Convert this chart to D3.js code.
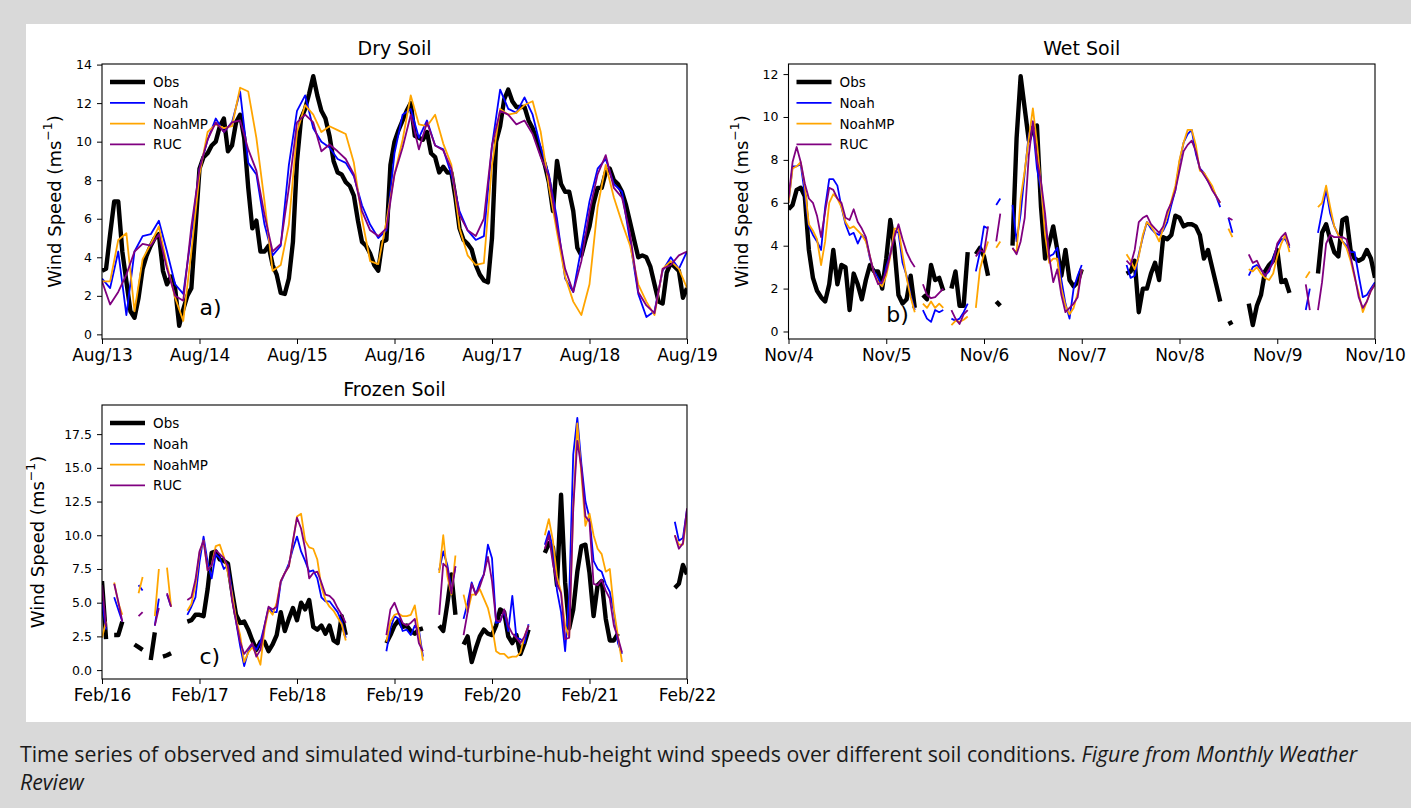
<!DOCTYPE html>
<html>
<head>
<meta charset="utf-8">
<script src="https://cdn.jsdelivr.net/npm/d3@7"></script>
<style>
  html, body { margin: 0; padding: 0; background: #d9d9d9; }
  svg { display: block; }
</style>
</head>
<body>
<svg id="fig" width="1411" height="808"></svg>
<script>
// ---------------------------------------------------------------------------
// Hub-height wind speed (m/s): observations and three land-surface models.
// Hours are counted from the first labelled day of each panel.
// ---------------------------------------------------------------------------

const seriesNames = ["Obs", "Noah", "NoahMP", "RUC"];

// Day labels on the time axes (one tick every 24 h)
const dryDays    = ["Aug/13", "Aug/14", "Aug/15", "Aug/16", "Aug/17", "Aug/18", "Aug/19"];
const wetDays    = ["Nov/4", "Nov/5", "Nov/6", "Nov/7", "Nov/8", "Nov/9", "Nov/10"];
const frozenDays = ["Feb/16", "Feb/17", "Feb/18", "Feb/19", "Feb/20", "Feb/21", "Feb/22"];

// Value-axis ticks
const dryYTicks    = [0, 2, 4, 6, 8, 10, 12, 14];
const wetYTicks    = [0, 2, 4, 6, 8, 10, 12];
const frozenYTicks = [0, 2.5, 5, 7.5, 10, 12.5, 15, 17.5];

// ---- Dry soil ------------------------------------------------------------
// observations, hourly
const dryObs = [
  3.3, 3.4, 5.2, 6.9, 6.9, 4.3, 2.75, 1.2, 0.86, 1.9,      // 0-9
  3.4, 4.1, 4.6, 5.0, 5.2, 3.3, 2.6, 3.0, 2.4, 0.45,       // 10-19
  1.3, 2.0, 2.4, 5.5, 8.6, 9.2, 9.4, 9.8, 10.0, 10.8,      // 20-29
  11.2, 9.5, 9.8, 11.0, 11.4, 10.2, 7.6, 5.5, 5.9, 4.3,    // 30-39
  4.3, 4.6, 3.6, 3.1, 2.15, 2.1, 2.9, 4.8, 9.0, 11.2,      // 40-49
  11.7, 12.5, 13.4, 12.4, 11.6, 11.2, 10.3, 9.0, 8.4, 8.3, // 50-59
  7.9, 7.7, 7.2, 5.9, 4.8, 4.6, 4.2, 3.6, 3.3, 4.8,        // 60-69
  4.9, 8.8, 10.0, 10.6, 11.1, 11.6, 12.0, 10.3, 10.2, 10.1,// 70-79
  10.5, 9.4, 9.2, 8.4, 8.7, 8.4, 8.4, 7.1, 5.5, 4.9,       // 80-89
  4.7, 4.4, 3.6, 3.1, 2.8, 2.7, 5.0, 10.0, 10.8, 12.2,     // 90-99
  12.7, 12.1, 11.8, 11.8, 11.8, 11.1, 10.7, 10.1, 9.5, 8.8,// 100-109
  7.9, 6.4, 9.0, 7.8, 7.4, 7.4, 6.4, 4.5, 4.1, 4.9,        // 110-119
  5.6, 6.8, 7.6, 7.6, 8.4, 8.6, 8.0, 7.8, 7.4, 6.7,        // 120-129
  5.8, 4.9, 4.0, 4.1, 4.0, 3.5, 2.6, 1.7, 1.6, 3.2,        // 130-139
  3.7, 3.5, 3.3, 1.9, 2.4                                  // 140-144
];
// model output, every 2 h
const dryNoah = [
  2.9, 2.4, 4.3, 1.0, 4.3, 5.1, 5.2, 5.9, 4.3, 2.6,
  2.1, 5.2, 8.6, 10.1, 11.2, 10.5, 11.0, 12.6, 8.9, 8.3,
  5.7, 4.1, 4.6, 8.8, 11.6, 12.4, 10.7, 10.0, 9.7, 9.1,
  8.9, 8.2, 6.7, 5.7, 5.0, 5.4, 9.4, 11.4, 11.7, 10.2,
  11.1, 9.8, 9.6, 8.3, 6.4, 5.4, 4.9, 5.1, 9.8, 12.7,
  11.7, 11.5, 12.3, 11.4, 9.7, 8.3, 6.0, 2.9, 2.2, 4.5,
  6.9, 8.6, 9.1, 7.8, 7.4, 4.8, 2.1, 0.9, 1.2, 3.3,
  4.0, 3.4, 4.3
];
const dryNoahMP = [
  2.75, 2.75, 4.9, 5.25, 1.2, 3.9, 4.7, 5.6, 3.6, 1.9,
  0.7, 4.3, 8.3, 10.5, 10.9, 10.7, 10.8, 12.8, 12.6, 10.2,
  6.9, 3.3, 3.6, 5.7, 10.5, 11.9, 11.4, 10.5, 10.8, 10.6,
  10.4, 8.9, 6.0, 3.8, 3.65, 5.85, 8.3, 10.1, 12.4, 10.9,
  10.8, 11.4, 9.9, 8.8, 5.5, 4.1, 3.6, 3.7, 8.8, 11.7,
  11.4, 11.5, 11.9, 12.1, 10.5, 7.7, 5.3, 3.0, 1.7, 1.0,
  2.6, 6.6, 8.8, 7.1, 5.8, 4.6, 2.6, 1.7, 1.0, 3.4,
  3.8, 3.4, 2.4
];
const dryRUC = [
  2.75, 1.55, 2.2, 3.1, 4.3, 4.7, 4.6, 5.2, 3.4, 2.0,
  1.75, 5.6, 8.6, 10.1, 11.0, 10.5, 11.0, 11.1, 9.6, 8.5,
  6.2, 4.3, 4.7, 7.6, 11.0, 11.4, 11.0, 9.5, 9.85, 9.5,
  9.1, 8.3, 6.4, 5.4, 5.1, 5.5, 8.3, 9.7, 11.4, 9.6,
  11.0, 9.8, 9.55, 8.6, 6.2, 5.4, 5.1, 6.0, 9.8, 11.6,
  11.4, 10.9, 11.1, 10.4, 9.2, 8.2, 5.6, 3.4, 2.2, 3.8,
  6.4, 8.3, 9.3, 7.6, 7.1, 5.2, 2.2, 1.5, 1.1, 3.4,
  3.6, 4.1, 4.3
];

// ---- Wet soil (hourly, null = missing) --------------------------------------
const wetObs = [
  5.7, 5.9, 6.6, 6.7, 6.3, 3.8, 2.5, 1.9, 1.6, 1.4,
  2.2, 3.8, 2.2, 3.1, 3.0, 1.0, 2.7, 2.2, 1.5, 2.4,
  3.1, 2.8, 2.8, 2.0, 3.4, 5.2, 3.9, 1.7, 1.3, 1.5,
  2.6, 1.1, null, 1.7, 1.5, 3.1, 2.4, 2.5, 1.9, null,
  2.0, 2.8, 1.2, 1.2, 3.7, null, 3.6, 3.9, 3.5, 2.6,
  null, 1.4, 1.2, null, null, 4.0, 9.0, 11.9, 10.4, 8.9,
  9.5, 9.6, 5.8, 3.4, 4.1, 4.9, 3.8, 2.6, 3.8, 2.4,
  2.1, 2.3, 2.9, null, null, null, null, null, null, null,
  null, null, null, 2.7, 2.8, 3.3, 0.9, 2.0, 2.0, 2.7,
  3.2, 2.4, 4.4, 4.3, 4.5, 5.4, 5.3, 4.9, 5.0, 5.0,
  4.9, 4.5, 3.4, 3.8, 3.0, 2.2, 1.4, null, 0.35, 0.45,
  null, null, null, 1.3, 0.3, 1.2, 1.7, 2.8, 3.1, 3.3,
  3.8, 2.3, 2.4, 1.8, null, null, null, null, null, null,
  2.7, 4.6, 5.0, 4.3, 3.7, 3.5, 5.2, 5.3, 3.8, 3.4,
  3.3, 3.4, 3.8, 3.4, 2.5
];
const wetNoah = [
  6.0, 7.7, 7.7, 7.8, 6.4, 4.9, 4.5, 4.2, 3.8, 5.8,
  7.1, 7.1, 6.8, 5.8, 5.0, 4.5, 4.6, 4.1, 4.5, 4.3,
  3.4, 2.8, 2.5, 2.1, 3.0, 3.6, 4.7, 4.6, 3.2, 2.6,
  1.7, 1.0, null, 1.0, 0.6, 0.45, 1.0, 0.9, 1.0, null,
  0.6, 0.5, 0.6, 0.9, 1.3, null, 2.8, 3.7, 4.9, 4.8,
  null, 5.9, 6.2, null, null, 5.9, 4.2, 5.5, 7.4, 9.2,
  9.6, 7.6, 6.6, 4.9, 3.5, 3.6, 3.9, 2.4, 1.3, 0.6,
  2.0, 2.6, 3.1, null, null, null, null, null, null, null,
  null, null, null, 3.1, 2.5, 2.6, 3.6, 4.4, 5.1, 4.8,
  4.6, 4.5, 4.7, 5.1, 5.9, 6.6, 7.9, 8.8, 9.2, 9.4,
  8.3, 7.6, 7.4, 7.0, 6.7, 6.3, 5.8, null, 5.3, 4.6,
  null, null, null, 2.6, 3.0, 3.1, 2.9, 2.6, 2.8, 3.4,
  4.0, 4.3, 4.3, 3.9, null, null, null, 1.0, 2.0, null,
  4.6, 5.6, 6.6, 5.5, 4.9, 4.5, 4.2, 4.0, 3.7, 3.7,
  2.6, 1.6, 1.7, 2.0, 2.3
];
const wetNoahMP = [
  6.0, 7.6, 7.7, 7.9, 6.8, 5.0, 4.7, 4.3, 3.1, 4.2,
  6.0, 6.4, 6.2, 5.8, 5.1, 4.8, 4.9, 4.7, 4.5, 4.2,
  3.5, 2.7, 2.3, 2.1, 2.6, 3.5, 4.8, 4.8, 3.6, 2.5,
  1.6, 0.9, null, 1.3, 1.1, 1.4, 1.1, 1.3, 1.1, null,
  0.3, 0.5, 0.45, 0.55, 0.7, null, 1.1, 2.9, 3.6, 4.2,
  null, 3.9, 4.2, null, null, 3.85, 3.7, 6.2, 7.5, 9.0,
  10.4, 8.8, 6.8, 4.5, 3.2, 3.4, 3.4, 2.0, 1.2, 0.8,
  1.1, 1.8, 2.9, null, null, null, null, null, null, null,
  null, null, null, 3.6, 3.3, 2.9, 3.5, 4.5, 5.1, 4.9,
  4.6, 4.2, 4.8, 5.4, 6.1, 6.8, 8.0, 8.8, 9.4, 9.4,
  8.7, 7.5, 7.4, 7.1, 6.8, 6.3, 6.0, null, 4.8, 4.4,
  null, null, null, 2.9, 2.8, 3.0, 2.7, 2.5, 2.4, 2.7,
  3.5, 4.1, 4.5, 3.7, null, null, null, 2.5, 2.8, null,
  5.8, 6.0, 6.8, 5.8, 4.9, 4.5, 4.2, 3.9, 3.3, 2.5,
  1.8, 0.9, 1.4, 1.9, 2.2
];
const wetRUC = [
  6.2, 7.9, 8.6, 7.9, 6.9, 6.2, 6.0, 5.4, 4.4, 5.6,
  6.7, 6.6, 6.2, 6.0, 5.3, 5.2, 5.7, 5.1, 4.8, 4.4,
  3.5, 2.7, 2.2, 2.3, 2.8, 3.6, 4.4, 5.0, 4.3, 3.7,
  3.3, 3.0, null, 2.2, 1.7, 1.55, 1.6, 1.8, 2.0, null,
  1.0, 0.6, 0.35, 0.8, 1.0, null, 3.5, 3.8, 3.7, 4.9,
  null, 4.2, 5.5, null, null, 3.9, 3.6, 4.2, 5.3, 8.2,
  9.8, 8.0, 7.0, 5.5, 3.5, 2.3, 2.9, 1.7, 0.9, 1.1,
  1.3, 1.6, 2.9, null, null, null, null, null, null, null,
  null, null, null, 3.3, 3.1, 3.8, 5.1, 5.3, 5.4, 5.0,
  4.8, 4.6, 4.9, 5.6, 6.0, 6.6, 7.5, 8.4, 8.7, 8.9,
  8.4, 7.6, 7.3, 7.0, 6.6, 6.3, 6.0, null, 5.3, 5.2,
  null, null, null, 3.6, 3.2, 3.3, 2.9, 2.6, 2.9, 3.2,
  4.1, 4.4, 4.6, 4.0, null, null, null, 2.2, 1.0, null,
  1.0, 2.3, 4.1, 4.5, 4.4, 4.4, 4.4, 4.3, 3.5, 2.6,
  1.6, 1.1, 1.4, 1.9, 2.2
];

// ---- Frozen soil (hourly, null = missing) -----------------------------------
const frozenObs = [
  6.6, 2.3, null, 2.6, 2.6, 3.6, null, null, 1.9, 1.7,
  1.5, null, 0.75, 2.8, null, 1.0, 1.1, 1.25, null, null,
  null, 3.6, 3.7, 4.1, 4.1, 4.0, 6.0, 8.7, 8.8, 8.2,
  8.1, 7.9, 5.9, 4.1, 3.5, 3.6, 3.0, 2.2, 1.5, 2.1,
  2.1, 1.4, 1.9, 2.6, 4.3, 2.9, 3.8, 4.6, 3.7, 5.0,
  4.5, 5.2, 3.2, 3.0, 3.3, 2.7, 3.3, 2.2, 2.0, 4.0,
  2.6, null, null, null, null, null, null, null, null, null,
  2.0, 2.6, 3.3, 3.7, 3.2, 3.3, 2.9, 2.7, 3.0, 3.1,
  null, null, null, 3.3, 2.9, 4.9, 7.1, 4.1, null, 1.9,
  2.5, 0.6, 1.6, 2.5, 3.0, 2.7, 2.6, 3.3, 4.5, 4.3,
  2.5, 2.0, 2.6, 1.2, 2.0, 3.0, null, null, null, 8.7,
  9.4, 9.1, 6.3, 13.0, 6.5, 3.1, 4.5, 7.3, 9.2, 9.3,
  7.2, 4.0, 6.3, 6.6, 3.8, 2.2, 2.2, 2.7, null, null,
  null, null, null, null, null, null, null, null, null, null,
  null, 6.1, 6.4, 7.8, 7.1
];
const frozenNoah = [
  5.1, 3.0, null, 5.4, 4.5, 3.6, null, null, null, 6.3,
  5.9, null, null, 3.3, 5.3, null, 5.6, 4.7, null, null,
  null, 4.1, 4.7, 5.4, 8.0, 9.9, 8.0, 6.8, 8.6, 8.3,
  7.5, 7.8, 5.8, 3.6, 1.8, 0.3, 1.4, 1.9, 1.5, 2.1,
  3.3, 4.6, 4.3, 4.3, 6.5, 7.2, 7.9, 9.0, 9.9, 8.8,
  8.1, 7.3, 7.4, 6.8, 5.4, 5.1, 5.1, 4.7, 4.3, 3.6,
  2.4, null, null, null, null, null, null, null, null, null,
  1.4, 3.1, 4.0, 3.8, 2.9, 3.0, 2.6, 3.3, 3.0, 1.0,
  null, null, null, 7.4, 8.8, 7.8, 6.0, 7.7, null, 3.8,
  5.0, 6.5, 5.6, 6.5, 7.1, 9.3, 8.3, 3.5, 3.6, 4.4,
  2.9, 5.5, 2.4, 2.3, 2.0, 3.4, null, null, null, 9.3,
  10.3, 9.0, 5.9, 4.3, 1.4, 5.5, 16.0, 18.7, 15.3, 12.5,
  11.3, 8.1, 7.5, 7.3, 6.4, 5.8, 4.3, 2.0, 1.2, null,
  null, null, null, null, null, null, null, null, null, null,
  null, 11.0, 9.6, 9.8, 11.9
];
const frozenNoahMP = [
  2.4, 3.6, null, 6.5, 5.0, 4.1, null, null, null, 5.7,
  6.9, null, null, 4.0, 7.5, null, 7.6, 4.7, null, null,
  null, 4.4, 4.9, 6.3, 8.7, 9.6, 7.4, 7.8, 9.2, 9.3,
  8.4, 7.2, 5.7, 3.8, 2.6, 0.6, 1.3, 1.7, 1.2, 0.4,
  3.0, 4.5, 4.1, 5.0, 6.6, 7.2, 7.7, 9.5, 11.4, 11.6,
  9.6, 9.1, 9.0, 8.2, 6.2, 5.2, 4.7, 4.4, 3.9, 3.4,
  2.2, null, null, null, null, null, null, null, null, null,
  2.1, 3.6, 4.1, 4.2, 4.0, 4.0, 4.1, 4.8, 2.8, 0.7,
  null, null, null, 7.2, 10.0, 7.0, 5.6, 8.5, null, 5.6,
  4.3, 5.6, 5.6, 6.0, 5.3, 4.6, 3.3, 1.4, 1.2, 1.2,
  0.9, 1.0, 1.0, 1.3, 2.5, 3.3, null, null, null, 10.0,
  11.2, 9.6, 6.9, 5.8, 3.3, 2.4, 12.0, 18.3, 14.5, 10.7,
  11.6, 10.0, 9.0, 8.6, 7.3, 7.5, 4.5, 2.5, 0.6, null,
  null, null, null, null, null, null, null, null, null, null,
  null, 10.0, 9.3, 9.3, 11.5
];
const frozenRUC = [
  6.3, 3.2, null, 6.4, 5.1, 3.6, null, null, null, 4.0,
  4.3, null, null, 3.3, 4.6, null, 5.7, 4.7, null, null,
  null, 5.2, 5.4, 6.7, 8.8, 9.6, 7.4, 7.8, 8.9, 8.6,
  8.3, 7.7, 5.2, 3.6, 2.1, 1.2, 1.6, 2.0, 1.0, 1.5,
  3.3, 4.7, 4.5, 4.7, 6.6, 7.2, 7.7, 9.6, 11.3, 10.5,
  9.0, 6.8, 7.2, 7.3, 6.5, 5.6, 5.5, 5.2, 4.6, 4.1,
  3.5, null, null, null, null, null, null, null, null, null,
  2.6, 4.5, 5.0, 4.2, 3.5, 3.3, 3.5, 3.8, 2.0, 1.4,
  null, null, null, 4.1, 7.9, 7.6, 5.7, 7.7, null, 2.6,
  4.3, 6.4, 5.6, 6.2, 7.1, 8.4, 6.6, 3.7, 3.6, 4.5,
  3.3, 2.7, 2.4, 2.0, 2.5, 3.3, null, null, null, 9.0,
  10.0, 7.9, 6.4, 5.7, 2.3, 2.4, 12.0, 17.0, 15.0, 11.4,
  11.0, 6.4, 6.3, 6.7, 5.9, 5.3, 3.3, 2.4, 1.3, null,
  null, null, null, null, null, null, null, null, null, null,
  null, 10.0, 9.0, 9.4, 12.0
];

// ---------------------------------------------------------------------------
// Styling and layout
// ---------------------------------------------------------------------------
const FONT = "'DejaVu Sans', sans-serif";
const lineStyle = {
  Obs:    { color: "#000000", width: 4.4 },
  Noah:   { color: "#0000ff", width: 1.8 },
  NoahMP: { color: "#ffa500", width: 1.8 },
  RUC:    { color: "#800080", width: 1.8 }
};

const panels = [
  {
    key: "dry", title: "Dry Soil", days: dryDays,
    box: { left: 102, right: 687, top: 64, bottom: 339 },
    yDomain: [-0.24, 14.03], yTicks: dryYTicks, yFormat: d3.format("d"),
    series: { Obs: [dryObs, 1], Noah: [dryNoah, 2], NoahMP: [dryNoahMP, 2], RUC: [dryRUC, 2] },
    tag: "a)", tagAt: [24, 1.0], ylabelGap: 48
  },
  {
    key: "wet", title: "Wet Soil", days: wetDays,
    box: { left: 788.5, right: 1375, top: 64, bottom: 339 },
    yDomain: [-0.35, 12.47], yTicks: wetYTicks, yFormat: d3.format("d"),
    series: { Obs: [wetObs, 1], Noah: [wetNoah, 1], NoahMP: [wetNoahMP, 1], RUC: [wetRUC, 1] },
    tag: "b)", tagAt: [24, 0.45], ylabelGap: 48
  },
  {
    key: "frozen", title: "Frozen Soil", days: frozenDays,
    box: { left: 102, right: 687, top: 405, bottom: 679 },
    yDomain: [-0.66, 19.66], yTicks: frozenYTicks, yFormat: d3.format(".1f"),
    series: { Obs: [frozenObs, 1], Noah: [frozenNoah, 1], NoahMP: [frozenNoahMP, 1], RUC: [frozenRUC, 1] },
    tag: "c)", tagAt: [24, 0.45], ylabelGap: 65
  }
];

const svg = d3.select("#fig");

// page background and white figure card
svg.append("rect").attr("x", 0).attr("y", 0).attr("width", 1411).attr("height", 808).attr("fill", "#d9d9d9");
svg.append("rect").attr("x", 26).attr("y", 24).attr("width", 1385).attr("height", 698).attr("fill", "#ffffff");

panels.forEach(p => {
  const b = p.box;
  const x = d3.scaleLinear().domain([0, (p.days.length - 1) * 24]).range([b.left, b.right]);
  const y = d3.scaleLinear().domain(p.yDomain).range([b.bottom, b.top]);
  const g = svg.append("g").attr("class", "panel-" + p.key);

  g.append("clipPath").attr("id", "clip-" + p.key)
    .append("rect").attr("x", b.left).attr("y", b.top)
    .attr("width", b.right - b.left).attr("height", b.bottom - b.top);

  // time series
  const plot = g.append("g").attr("clip-path", `url(#clip-${p.key})`);
  seriesNames.forEach(name => {
    const [vals, step] = p.series[name];
    const pts = vals.map((v, i) => ({ h: i * step, v: v }));
    const line = d3.line()
      .defined(d => d.v !== null)
      .x(d => x(d.h))
      .y(d => y(d.v));
    plot.append("path")
      .datum(pts)
      .attr("d", line)
      .attr("fill", "none")
      .attr("stroke", lineStyle[name].color)
      .attr("stroke-width", lineStyle[name].width)
      .attr("stroke-linejoin", "round")
      .attr("stroke-linecap", "butt");
  });

  // axes
  const xAxis = d3.axisBottom(x)
    .tickValues(p.days.map((_, i) => i * 24))
    .tickFormat((d, i) => p.days[i])
    .tickSize(5).tickPadding(5);
  const gx = g.append("g").attr("transform", `translate(0,${b.bottom})`).call(xAxis);
  gx.select(".domain").remove();
  gx.selectAll("text").attr("font-family", FONT).attr("font-size", 17).attr("fill", "#000");
  gx.selectAll("line").attr("stroke", "#000").attr("stroke-width", 1);

  const yAxis = d3.axisLeft(y)
    .tickValues(p.yTicks)
    .tickFormat(p.yFormat)
    .tickSize(5).tickPadding(5);
  const gy = g.append("g").attr("transform", `translate(${b.left},0)`).call(yAxis);
  gy.select(".domain").remove();
  gy.selectAll("text").attr("font-family", FONT).attr("font-size", 12.5).attr("fill", "#000");
  gy.selectAll("line").attr("stroke", "#000").attr("stroke-width", 1);

  // frame
  g.append("rect")
    .attr("x", b.left).attr("y", b.top)
    .attr("width", b.right - b.left).attr("height", b.bottom - b.top)
    .attr("fill", "none").attr("stroke", "#000").attr("stroke-width", 1.1);

  // title
  g.append("text")
    .attr("x", (b.left + b.right) / 2).attr("y", b.top - 9)
    .attr("text-anchor", "middle")
    .attr("font-family", FONT).attr("font-size", 19).attr("fill", "#000")
    .text(p.title);

  // value-axis label with superscript unit
  const yl = g.append("text")
    .attr("transform", `translate(${b.left - p.ylabelGap},${(b.top + b.bottom) / 2}) rotate(-90)`)
    .attr("text-anchor", "middle")
    .attr("dominant-baseline", "central")
    .attr("font-family", FONT).attr("font-size", 18).attr("fill", "#000");
  yl.append("tspan").text("Wind Speed (ms");
  yl.append("tspan").attr("dy", -7).attr("font-size", 12.5).text("\u22121");
  yl.append("tspan").attr("dy", 7).text(")");

  // panel tag
  g.append("text")
    .attr("x", x(p.tagAt[0])).attr("y", y(p.tagAt[1]))
    .attr("font-family", FONT).attr("font-size", 22).attr("fill", "#000")
    .text(p.tag);

  // legend
  const lg = g.append("g");
  seriesNames.forEach((name, i) => {
    const ly = b.top + 18 + i * 20.8;
    lg.append("line")
      .attr("x1", b.left + 8).attr("x2", b.left + 43)
      .attr("y1", ly).attr("y2", ly)
      .attr("stroke", lineStyle[name].color)
      .attr("stroke-width", lineStyle[name].width);
    lg.append("text")
      .attr("x", b.left + 51).attr("y", ly)
      .attr("dominant-baseline", "central")
      .attr("font-family", FONT).attr("font-size", 13.5).attr("fill", "#000")
      .text(name);
  });
});

// caption under the figure
const cap = svg.append("text")
  .attr("font-family", "'Open Sans', sans-serif")
  .attr("font-size", 21.3)
  .attr("fill", "#1a1a1a");
cap.append("tspan").attr("x", 20).attr("y", 762)
  .text("Time series of observed and simulated wind-turbine-hub-height wind speeds over different soil conditions. ");
cap.append("tspan").attr("font-style", "italic").text("Figure from Monthly Weather");
cap.append("tspan").attr("x", 20).attr("y", 790).attr("font-style", "italic").text("Review");
</script>
</body>
</html>
